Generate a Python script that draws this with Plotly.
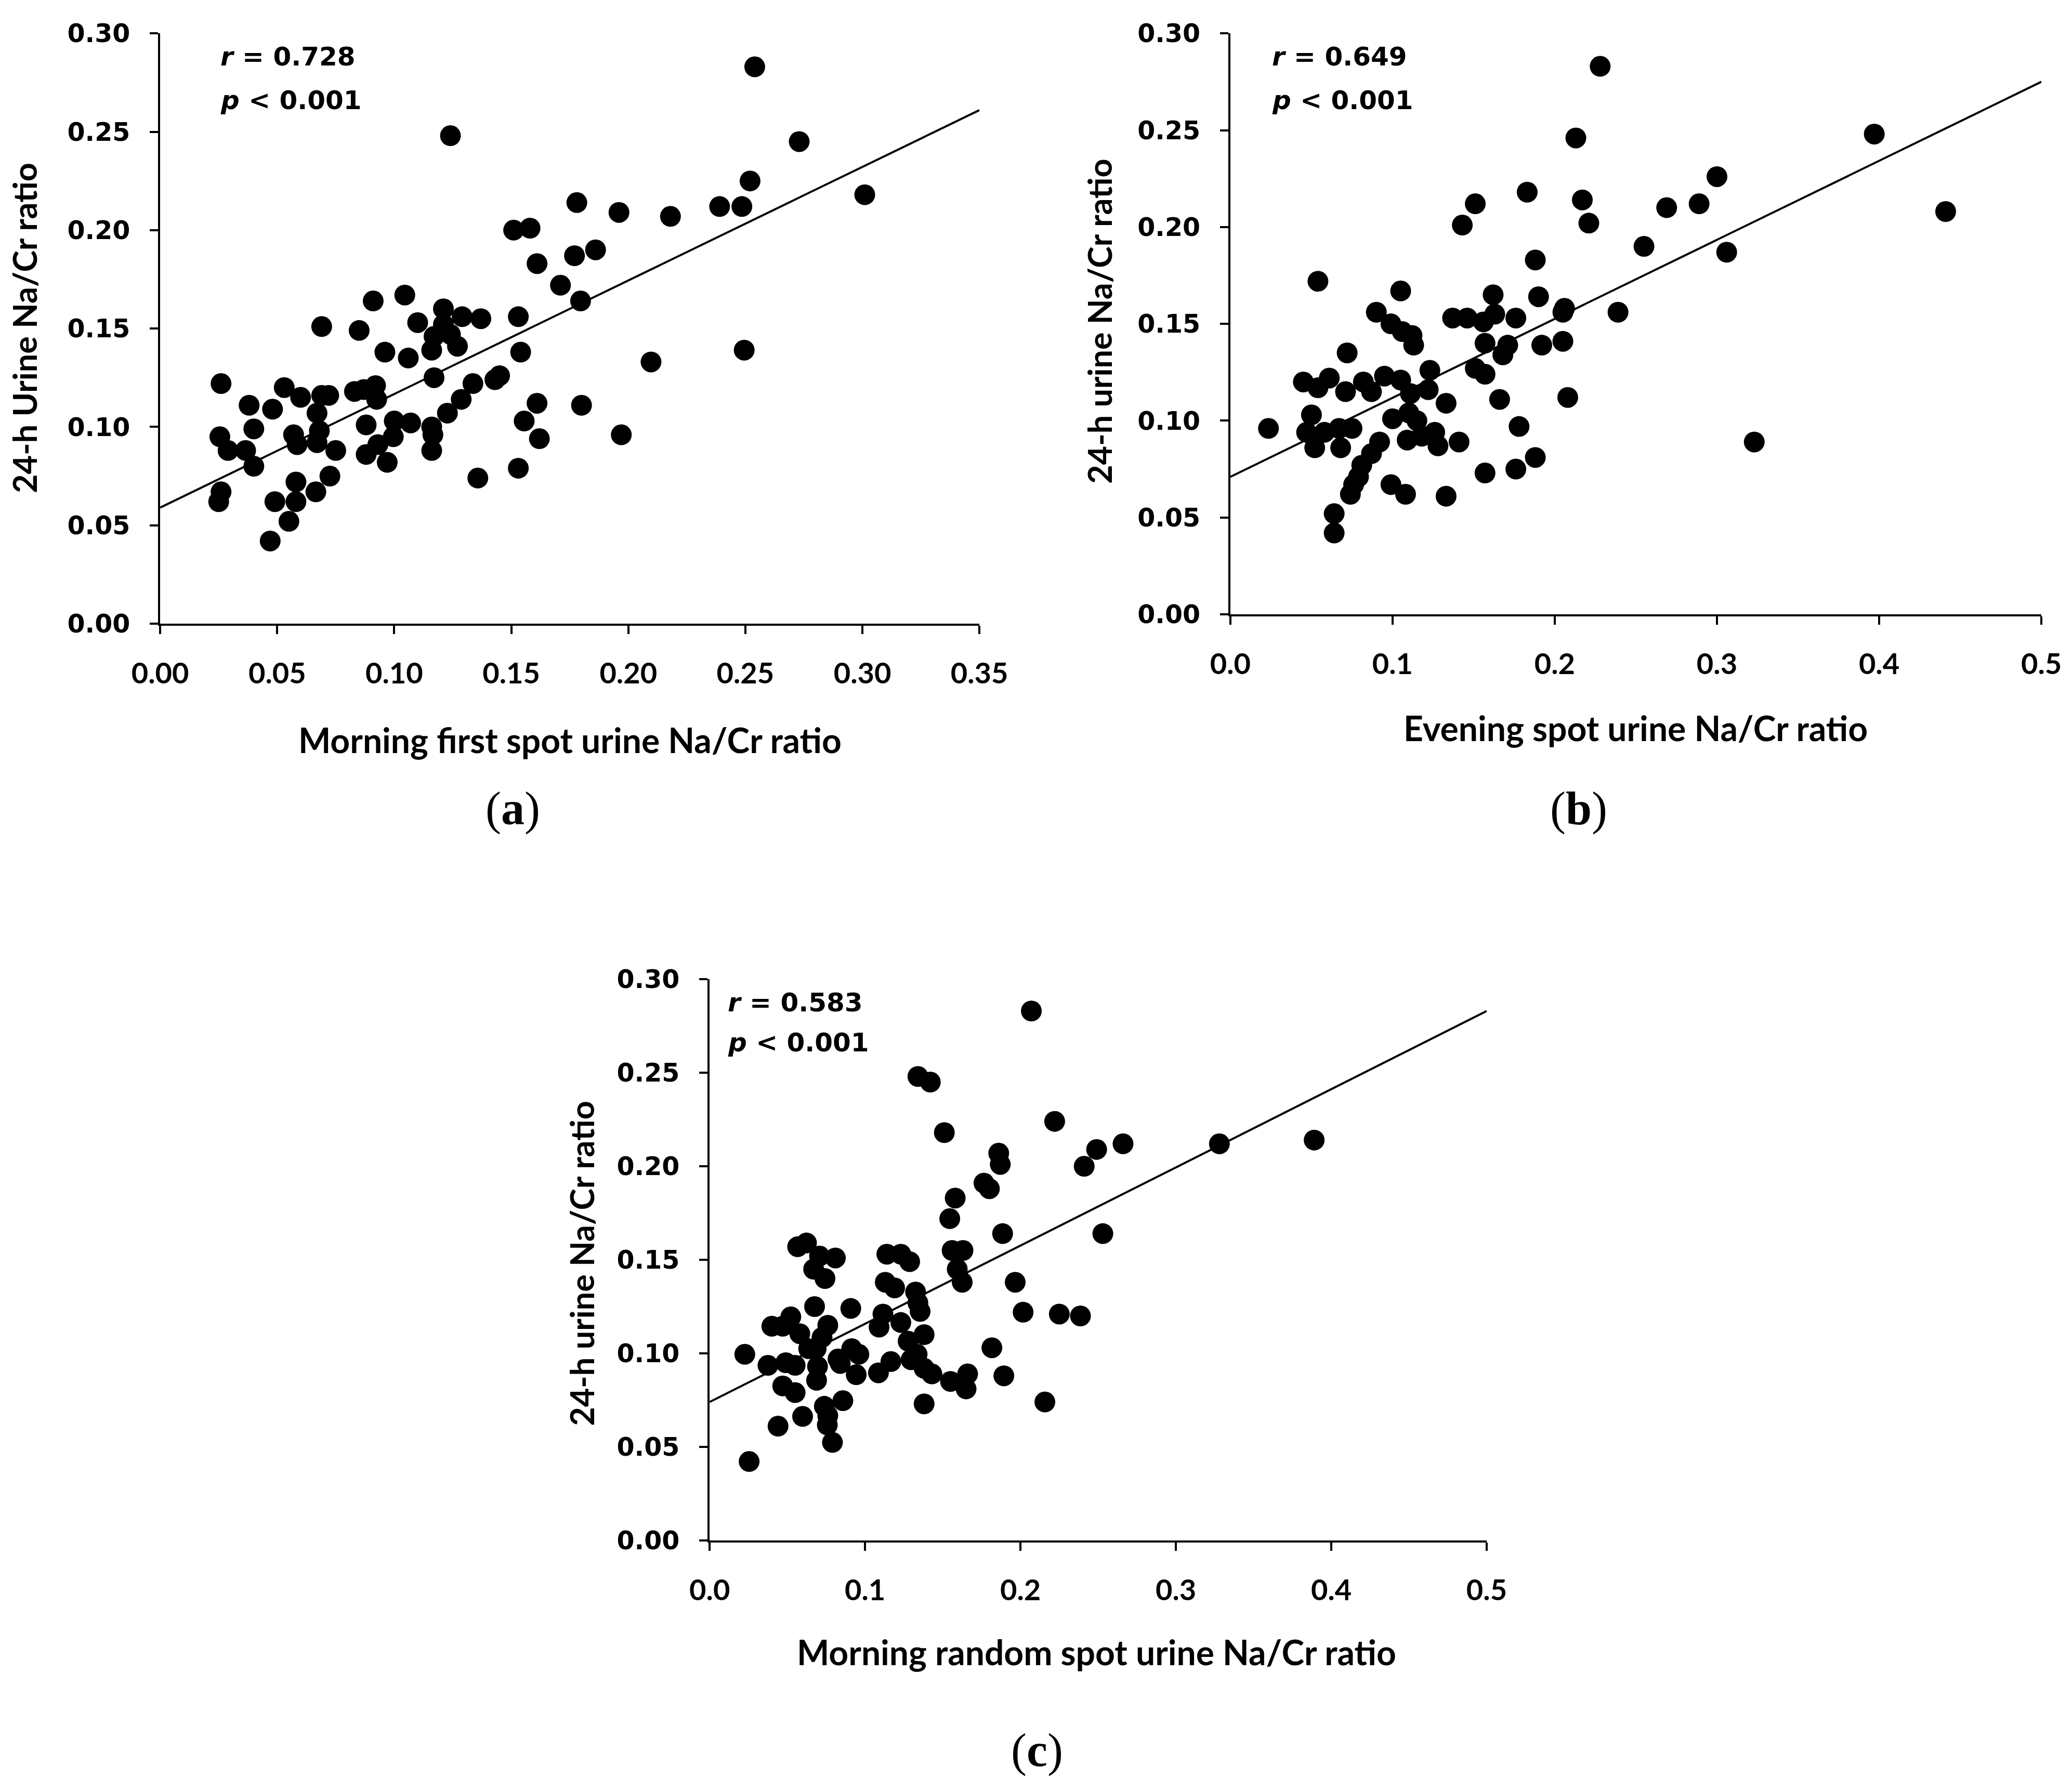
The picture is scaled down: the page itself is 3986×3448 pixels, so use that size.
"""
Scatter plots of spot urine Na/Cr ratio against 24-h urine Na/Cr ratio,
three panels (a), (b), (c) with fitted line and r / p values.
"""

import plotly.graph_objects as go

# panel (a): morning first spot vs 24-h urine
a_x = [0.026, 0.0255, 0.029, 0.026, 0.025, 0.038, 0.040, 0.0365, 0.040, 0.048,
       0.053, 0.060, 0.057, 0.0585, 0.058, 0.058, 0.049, 0.055, 0.047, 0.069,
       0.067, 0.069, 0.072, 0.068, 0.067, 0.075, 0.0725, 0.0665, 0.085, 0.091,
       0.083, 0.087, 0.092, 0.088, 0.0925, 0.088, 0.093, 0.097, 0.096, 0.100,
       0.0996, 0.1045, 0.106, 0.107, 0.110, 0.117, 0.116, 0.1165, 0.116, 0.116,
       0.117, 0.121, 0.121, 0.124, 0.124, 0.127, 0.129, 0.1227, 0.1286, 0.1336,
       0.137, 0.1357, 0.143, 0.145, 0.151, 0.153, 0.154, 0.153, 0.1555, 0.158,
       0.161, 0.161, 0.162, 0.171, 0.177, 0.178, 0.1796, 0.180, 0.186, 0.196,
       0.197, 0.2097, 0.218, 0.239, 0.2485, 0.2495, 0.252, 0.254, 0.273, 0.301]
a_y = [0.122, 0.095, 0.088, 0.067, 0.062, 0.111, 0.099, 0.088, 0.080, 0.109,
       0.120, 0.115, 0.096, 0.091, 0.072, 0.062, 0.062, 0.052, 0.042, 0.151,
       0.107, 0.116, 0.116, 0.098, 0.092, 0.088, 0.075, 0.067, 0.149, 0.164,
       0.118, 0.119, 0.121, 0.101, 0.114, 0.086, 0.091, 0.082, 0.138, 0.103,
       0.095, 0.167, 0.135, 0.102, 0.153, 0.125, 0.100, 0.096, 0.088, 0.139,
       0.146, 0.160, 0.152, 0.147, 0.248, 0.141, 0.156, 0.107, 0.114, 0.122,
       0.155, 0.074, 0.124, 0.126, 0.200, 0.156, 0.138, 0.079, 0.103, 0.201,
       0.183, 0.112, 0.094, 0.172, 0.187, 0.214, 0.164, 0.111, 0.190, 0.209,
       0.096, 0.133, 0.207, 0.212, 0.212, 0.139, 0.225, 0.283, 0.245, 0.218]
a_fit_x = [0.0, 0.35]
a_fit_y = [0.059, 0.261]

# panel (b): evening spot vs 24-h urine
b_x = [0.0235, 0.054, 0.045, 0.054, 0.061, 0.050, 0.047, 0.052, 0.058, 0.067,
       0.068, 0.075, 0.071, 0.072, 0.082, 0.087, 0.095, 0.090, 0.099, 0.105,
       0.106, 0.112, 0.113, 0.092, 0.087, 0.081, 0.079, 0.076, 0.074, 0.064,
       0.064, 0.099, 0.108, 0.100, 0.105, 0.111, 0.110, 0.115, 0.109, 0.118,
       0.122, 0.123, 0.126, 0.128, 0.133, 0.133, 0.141, 0.137, 0.146, 0.151,
       0.157, 0.157, 0.156, 0.163, 0.162, 0.143, 0.151, 0.166, 0.157, 0.168,
       0.171, 0.176, 0.178, 0.176, 0.183, 0.188, 0.188, 0.190, 0.192, 0.206,
       0.205, 0.205, 0.208, 0.213, 0.217, 0.221, 0.228, 0.239, 0.255, 0.269,
       0.289, 0.300, 0.306, 0.323, 0.397, 0.441]
b_y = [0.096, 0.172, 0.120, 0.117, 0.122, 0.103, 0.094, 0.086, 0.094, 0.096,
       0.086, 0.096, 0.115, 0.135, 0.120, 0.115, 0.123, 0.156, 0.150, 0.167,
       0.146, 0.144, 0.139, 0.089, 0.083, 0.077, 0.071, 0.067, 0.062, 0.052,
       0.042, 0.067, 0.062, 0.101, 0.121, 0.114, 0.104, 0.100, 0.090, 0.092,
       0.116, 0.126, 0.094, 0.087, 0.109, 0.061, 0.089, 0.153, 0.153, 0.127,
       0.124, 0.140, 0.151, 0.155, 0.165, 0.201, 0.212, 0.111, 0.073, 0.134,
       0.139, 0.153, 0.097, 0.075, 0.218, 0.081, 0.183, 0.164, 0.139, 0.158,
       0.156, 0.141, 0.112, 0.246, 0.214, 0.202, 0.283, 0.156, 0.190, 0.210,
       0.212, 0.226, 0.187, 0.089, 0.248, 0.208]
b_fit_x = [0.0, 0.5]
b_fit_y = [0.071, 0.275]

# panel (c): morning random spot vs 24-h urine
c_x = [0.207, 0.134, 0.142, 0.151, 0.222, 0.186, 0.187, 0.249, 0.241, 0.266,
       0.1765, 0.180, 0.158, 0.1545, 0.1885, 0.253, 0.156, 0.163, 0.1593, 0.1625,
       0.1966, 0.2017, 0.225, 0.2386, 0.1816, 0.1893, 0.2157, 0.166, 0.165, 0.155,
       0.143, 0.138, 0.138, 0.138, 0.1335, 0.1296, 0.1277, 0.1354, 0.134, 0.1325,
       0.123, 0.119, 0.113, 0.114, 0.123, 0.1287, 0.1115, 0.109, 0.1166, 0.1086,
       0.0943, 0.096, 0.0914, 0.084, 0.0826, 0.0857, 0.0908, 0.0809, 0.0742, 0.0707,
       0.0669, 0.0623, 0.0566, 0.0675, 0.076, 0.0723, 0.0685, 0.0637, 0.0522, 0.047,
       0.040, 0.058, 0.055, 0.049, 0.0375, 0.0226, 0.0694, 0.0688, 0.047, 0.055,
       0.0738, 0.076, 0.0757, 0.079, 0.0598, 0.044, 0.0254, 0.328, 0.389]
c_y = [0.283, 0.248, 0.245, 0.218, 0.224, 0.207, 0.201, 0.209, 0.200, 0.212,
       0.191, 0.188, 0.183, 0.172, 0.164, 0.164, 0.155, 0.155, 0.145, 0.138,
       0.138, 0.122, 0.121, 0.120, 0.103, 0.088, 0.074, 0.089, 0.081, 0.085,
       0.089, 0.092, 0.073, 0.110, 0.0995, 0.0966, 0.1065, 0.1224, 0.127, 0.1328,
       0.1165, 0.135, 0.138, 0.153, 0.153, 0.149, 0.121, 0.114, 0.0956, 0.0896,
       0.0886, 0.0995, 0.1025, 0.0946, 0.097, 0.0747, 0.124, 0.151, 0.140, 0.152,
       0.145, 0.159, 0.157, 0.125, 0.115, 0.1085, 0.1025, 0.1025, 0.1195, 0.1145,
       0.1145, 0.1105, 0.0936, 0.095, 0.0936, 0.0995, 0.093, 0.0856, 0.0826, 0.079,
       0.0717, 0.0667, 0.0617, 0.0524, 0.0663, 0.0611, 0.0422, 0.212, 0.214]
c_fit_x = [0.0, 0.5]
c_fit_y = [0.074, 0.283]

y_ticks = [0.00, 0.05, 0.10, 0.15, 0.20, 0.25, 0.30]
a_x_ticks = [0.00, 0.05, 0.10, 0.15, 0.20, 0.25, 0.30, 0.35]
bc_x_ticks = [0.0, 0.1, 0.2, 0.3, 0.4, 0.5]

panels = [
    # x data, y data, fit x, fit y, x ticks, tick format, r text
    (a_x, a_y, a_fit_x, a_fit_y, a_x_ticks, ".2f", "0.728"),
    (b_x, b_y, b_fit_x, b_fit_y, bc_x_ticks, ".1f", "0.649"),
    (c_x, c_y, c_fit_x, c_fit_y, bc_x_ticks, ".1f", "0.583"),
]
x_titles = ["Morning first spot urine Na/Cr ratio",
            "Evening spot urine Na/Cr ratio",
            "Morning random spot urine Na/Cr ratio"]
y_titles = ["24-h Urine Na/Cr ratio", "24-h urine Na/Cr ratio", "24-h urine Na/Cr ratio"]
letters = ["a", "b", "c"]

# the page body adds a small offset, so everything is nudged left / up a little
DX, DY = -0.002, 0.0023

# layout positions, in paper fractions
x_domains = [[0.0773, 0.4727], [0.5938, 0.9852], [0.3425, 0.7175]]
y_domains = [[0.6520, 0.9814], [0.6572, 0.9814], [0.1404, 0.4536]]
x_title_pos = [(0.275, 0.5873), (0.7895, 0.5937), (0.5293, 0.0783)]
y_title_pos = [(0.0115, 0.817), (0.5306, 0.8208), (0.2806, 0.2952)]
letter_pos = [(0.2474, 0.5487), (0.762, 0.5487), (0.5006, 0.0232)]
stat_pos = [(0.1059, 0.9684, 0.944), (0.6134, 0.9684, 0.944), (0.3507, 0.4405, 0.4182)]

W, H = 3986, 3448

fig = go.Figure()
annotations = []


def note(text, x, y, size, family="Lato", **kw):
    annotations.append(dict(text=text, x=x + DX, y=y + DY, xref="paper", yref="paper",
                            showarrow=False, yanchor="middle",
                            font=dict(family=family, size=size, color="black"), **kw))


for i, (xs, ys, fx, fy, xt, fmt, r_txt) in enumerate(panels):
    n = "" if i == 0 else str(i + 1)
    xa, ya = "x" + n, "y" + n

    fig.add_trace(go.Scatter(x=xs, y=ys, mode="markers", xaxis=xa, yaxis=ya,
                             marker=dict(color="black", size=40, line=dict(width=0)),
                             showlegend=False, cliponaxis=False))
    fig.add_trace(go.Scatter(x=fx, y=fy, mode="lines", xaxis=xa, yaxis=ya,
                             line=dict(color="black", width=4),
                             showlegend=False, cliponaxis=False))

    xd = [v + DX for v in x_domains[i]]
    yd = [v + DY for v in y_domains[i]]
    fig.layout["xaxis" + n] = dict(
        domain=xd, anchor=ya, range=[xt[0], xt[-1]], automargin=False,
        tickvals=xt, tickformat=fmt, ticks="outside", ticklen=16, tickwidth=4,
        tickcolor="black", showline=True, linecolor="black", linewidth=4,
        showgrid=False, zeroline=False, ticklabelstandoff=28,
        tickfont=dict(family="Lato", size=56, color="black", weight="bold"))
    fig.layout["yaxis" + n] = dict(
        domain=yd, anchor=xa, range=[0, 0.30], automargin=False,
        tickvals=y_ticks, tickformat=".2f", ticks="outside", ticklen=16, tickwidth=4,
        tickcolor="black", showline=True, linecolor="black", linewidth=4,
        showgrid=False, zeroline=False, ticklabelstandoff=28,
        tickfont=dict(family="DejaVu Sans", size=49, color="black", weight="bold"))

    note("<b>" + x_titles[i] + "</b>", *x_title_pos[i], 66, xanchor="center")
    note("<b>" + y_titles[i] + "</b>", *y_title_pos[i], 63, xanchor="center",
         textangle=-90)
    note("(<b>" + letters[i] + "</b>)", *letter_pos[i], 90,
         family="Liberation Serif", xanchor="center")
    sx, sy1, sy2 = stat_pos[i]
    note("<b><i>r</i> = " + r_txt + "</b>", sx, sy1, 50, family="DejaVu Sans",
         xanchor="left")
    note("<b><i>p</i> &lt; 0.001</b>", sx, sy2, 50, family="DejaVu Sans",
         xanchor="left")

fig.update_layout(width=W, height=H, margin=dict(l=0, r=0, t=0, b=0),
                  paper_bgcolor="white", plot_bgcolor="white",
                  annotations=annotations)

fig.write_html("out.html")
